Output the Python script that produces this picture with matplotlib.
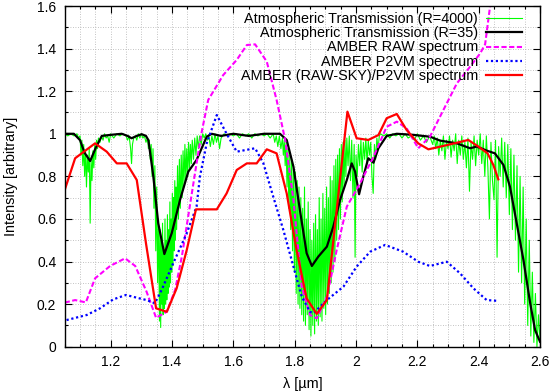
import matplotlib
matplotlib.use("Agg")
import matplotlib.pyplot as plt
from matplotlib.ticker import MultipleLocator

plt.rcParams['font.family'] = ['Liberation Sans', 'DejaVu Sans']

# --- Atmospheric transmission, high resolution (R=4000) ---
wl_hr = [1.050, 1.060, 1.070, 1.080, 1.090, 1.095, 1.100,
         1.103, 1.106, 1.109, 1.112, 1.115, 1.118, 1.121, 1.124, 1.127, 1.130, 1.133, 1.136, 1.139, 1.142,
         1.145, 1.148, 1.151, 1.154, 1.157, 1.160,
         1.165, 1.170, 1.175, 1.180, 1.185, 1.190, 1.195, 1.200, 1.210, 1.220, 1.230, 1.240, 1.250, 1.255, 1.260,
         1.265, 1.268, 1.271, 1.275, 1.280, 1.285, 1.290, 1.295, 1.300, 1.305, 1.310, 1.315, 1.320,
         1.323, 1.326, 1.329, 1.332, 1.335, 1.338, 1.341, 1.344, 1.347, 1.350, 1.353, 1.356, 1.359, 1.361,
         1.363, 1.365, 1.367, 1.369, 1.371, 1.373, 1.375, 1.377, 1.379, 1.381, 1.383, 1.385, 1.387, 1.389,
         1.391, 1.393, 1.395, 1.397, 1.399, 1.401, 1.403, 1.405, 1.407, 1.409, 1.411, 1.413, 1.415, 1.418,
         1.421, 1.424, 1.427, 1.430, 1.433, 1.436, 1.439, 1.442, 1.445, 1.448, 1.451, 1.454, 1.457, 1.460,
         1.463, 1.466, 1.470, 1.474, 1.478, 1.482, 1.486, 1.490, 1.495, 1.500,
         1.505, 1.510, 1.515, 1.520, 1.525, 1.530, 1.535, 1.540, 1.545, 1.550, 1.555, 1.560, 1.570, 1.580,
         1.590, 1.600, 1.610, 1.620, 1.630, 1.640, 1.650, 1.660, 1.670, 1.680, 1.690, 1.700, 1.710, 1.720,
         1.730, 1.735, 1.740, 1.745, 1.750, 1.755, 1.760,
         1.763, 1.766, 1.769, 1.772, 1.775, 1.778, 1.781, 1.784, 1.787, 1.790, 1.793, 1.796, 1.799, 1.802,
         1.805, 1.808, 1.811, 1.814, 1.817, 1.820, 1.823, 1.826, 1.829, 1.832, 1.835, 1.838, 1.841, 1.844,
         1.847, 1.850, 1.853, 1.856, 1.859, 1.862, 1.865, 1.868, 1.871, 1.874, 1.877, 1.880, 1.883, 1.886,
         1.889, 1.892, 1.895, 1.898, 1.901, 1.904, 1.907, 1.910, 1.913, 1.916, 1.919, 1.922, 1.925, 1.928,
         1.931, 1.934, 1.937, 1.940, 1.943, 1.946, 1.949, 1.952, 1.955, 1.958, 1.961, 1.964, 1.967, 1.970,
         1.974, 1.978, 1.982, 1.986, 1.990, 1.994, 1.997, 2.000, 2.004, 2.008, 2.012, 2.016, 2.020, 2.024,
         2.028, 2.032, 2.036, 2.040, 2.044, 2.048, 2.052, 2.056, 2.060, 2.064, 2.068, 2.072, 2.076,
         2.080, 2.090, 2.100, 2.110, 2.120, 2.130, 2.140, 2.150, 2.160, 2.170, 2.180, 2.190, 2.200, 2.210,
         2.220, 2.230, 2.240, 2.250, 2.255, 2.260, 2.265, 2.270, 2.275, 2.280, 2.285, 2.290, 2.295,
         2.300, 2.305, 2.310, 2.315, 2.320, 2.325, 2.330, 2.335, 2.340, 2.345, 2.350, 2.355, 2.360, 2.365,
         2.370, 2.375, 2.380, 2.385, 2.390, 2.395, 2.400, 2.405, 2.410, 2.415, 2.420, 2.425, 2.430, 2.435,
         2.440, 2.445, 2.450, 2.455, 2.460, 2.465, 2.470, 2.475, 2.480, 2.485, 2.490, 2.495, 2.500,
         2.505, 2.510, 2.515, 2.520, 2.525, 2.530, 2.535, 2.540, 2.545, 2.550, 2.555, 2.560, 2.565, 2.570,
         2.575, 2.580, 2.585, 2.590, 2.595, 2.600]
tr_hr = [1.00, 0.99, 1.00, 0.99, 1.00, 0.98, 0.99,
         0.90, 0.97, 0.85, 0.95, 0.80, 0.92, 0.75, 0.90, 0.82, 0.93, 0.58, 0.88, 0.78, 0.92,
         0.84, 0.95, 0.88, 0.97, 0.93, 0.98,
         0.96, 0.99, 0.97, 1.00, 0.98, 0.99, 0.96, 1.00, 0.98, 1.00, 0.99, 1.00, 0.99, 0.97, 0.99,
         0.93, 0.86, 0.95, 0.98, 0.99, 0.97, 1.00, 0.98, 1.00, 0.98, 0.99, 0.96, 0.98,
         0.93, 0.97, 0.88, 0.95, 0.80, 0.93, 0.65, 0.85, 0.45, 0.75, 0.30, 0.60, 0.12, 0.55,
         0.09, 0.50, 0.20, 0.58, 0.15, 0.45, 0.18, 0.60, 0.20, 0.50, 0.22, 0.62, 0.25, 0.55,
         0.28, 0.68, 0.30, 0.60, 0.35, 0.72, 0.38, 0.70, 0.45, 0.78, 0.50, 0.75, 0.55, 0.85,
         0.60, 0.88, 0.65, 0.90, 0.70, 0.92, 0.75, 0.95, 0.78, 0.93, 0.80, 0.96, 0.84, 0.95,
         0.86, 0.97, 0.88, 0.98, 0.90, 0.99, 0.93, 0.99, 0.95, 1.00,
         0.98, 1.00, 0.97, 0.99, 0.94, 0.99, 0.95, 1.00, 0.96, 0.99, 0.93, 0.98, 1.00, 0.99,
         1.00, 0.99, 1.00, 0.98, 1.00, 0.99, 1.00, 0.98, 1.00, 0.99, 1.00, 0.99, 1.00, 0.98,
         1.00, 0.96, 0.99, 0.94, 0.99, 0.93, 0.98,
         0.90, 0.97, 0.85, 0.96, 0.75, 0.93, 0.65, 0.90, 0.55, 0.88, 0.45, 0.85, 0.35, 0.82,
         0.25, 0.78, 0.20, 0.75, 0.18, 0.70, 0.15, 0.65, 0.12, 0.75, 0.10, 0.60, 0.15, 0.68,
         0.08, 0.55, 0.05, 0.50, 0.10, 0.58, 0.06, 0.62, 0.12, 0.55, 0.10, 0.70, 0.14, 0.60,
         0.12, 0.72, 0.18, 0.65, 0.15, 0.75, 0.20, 0.70, 0.25, 0.80, 0.30, 0.78, 0.35, 0.85,
         0.40, 0.88, 0.50, 0.90, 0.55, 0.93, 0.60, 0.95, 0.68, 0.96, 0.75, 0.97, 0.80, 0.98,
         0.85, 0.99, 0.78, 0.97, 0.70, 0.95, 0.42, 0.90, 0.80, 0.95, 0.85, 0.97, 0.82, 0.96,
         0.88, 0.98, 0.86, 0.97, 0.90, 0.96, 0.80, 0.72, 0.95, 0.88, 0.98, 0.93, 0.99,
         1.00, 0.99, 1.00, 0.98, 1.00, 0.99, 1.00, 0.98, 1.00, 0.98, 0.99, 0.97, 1.00, 0.97,
         0.99, 0.96, 0.99, 0.95, 0.99, 0.93, 0.98, 0.90, 0.97, 0.92, 0.99, 0.88, 0.97,
         0.93, 0.99, 0.89, 0.97, 0.92, 1.00, 0.86, 0.97, 0.90, 0.99, 0.88, 0.96, 0.84, 0.98,
         0.73, 0.96, 0.88, 0.99, 0.85, 0.97, 0.90, 1.00, 0.86, 0.97, 0.80, 0.99, 0.84, 0.60,
         0.96, 0.78, 0.69, 0.97, 0.42, 0.94, 0.80, 0.98, 0.75, 0.96, 0.70, 0.95, 0.62,
         0.93, 0.55, 0.90, 0.50, 0.85, 0.35, 0.80, 0.30, 0.75, 0.20, 0.60, 0.10, 0.50, 0.05,
         0.35, 0.02, 0.25, 0.00, 0.15, 0.03]

# --- Atmospheric transmission, low resolution (R=35) ---
wl_lr = [1.050, 1.080, 1.100, 1.115, 1.133, 1.150, 1.171, 1.200, 1.236, 1.255, 1.268, 1.285, 1.301,
         1.315, 1.323, 1.339, 1.355, 1.375, 1.399, 1.426, 1.453, 1.480, 1.513, 1.529, 1.560, 1.600,
         1.650, 1.700, 1.752, 1.774, 1.796, 1.817, 1.839, 1.856, 1.877, 1.905, 1.926, 1.948, 1.970,
         1.986, 1.997, 2.010, 2.024, 2.040, 2.057, 2.073, 2.100, 2.133, 2.187, 2.242, 2.274, 2.329,
         2.372, 2.394, 2.426, 2.453, 2.481, 2.502, 2.524, 2.546, 2.568, 2.584, 2.600]
tr_lr = [1.00, 1.00, 0.97, 0.91, 0.872, 0.93, 0.99, 0.995, 1.00, 0.99, 0.979, 0.99, 0.998,
         0.99, 0.97, 0.80, 0.58, 0.435, 0.533, 0.689, 0.822, 0.877, 0.986, 1.00, 0.99, 1.00,
         0.99, 1.00, 1.00, 0.971, 0.845, 0.642, 0.439, 0.379, 0.423, 0.47, 0.564, 0.689, 0.783,
         0.861, 0.822, 0.716, 0.80, 0.885, 0.864, 0.932, 0.99, 1.00, 0.995, 0.986, 0.968, 0.955,
         0.932, 0.94, 0.921, 0.908, 0.853, 0.752, 0.58, 0.407, 0.204, 0.078, 0.023]

# --- AMBER RAW spectrum ---
wl_raw = [1.050, 1.084, 1.119, 1.149, 1.198, 1.247, 1.280, 1.317, 1.348, 1.383, 1.410, 1.432, 1.480,
          1.497, 1.518, 1.567, 1.611, 1.644, 1.671, 1.709, 1.741, 1.769, 1.796, 1.823, 1.850, 1.872,
          1.905, 1.937, 1.970, 2.013, 2.057, 2.100, 2.133, 2.165, 2.203, 2.241, 2.285, 2.329, 2.372,
          2.405, 2.421, 2.437, 2.450]
int_raw = [0.207, 0.219, 0.208, 0.321, 0.379, 0.415, 0.379, 0.258, 0.136, 0.164, 0.266, 0.423, 0.861,
           1.01, 1.159, 1.276, 1.347, 1.417, 1.42, 1.339, 1.159, 0.971, 0.689, 0.282, 0.149, 0.133,
           0.235, 0.454, 0.658, 0.767, 0.892, 1.033, 1.057, 1.026, 0.932, 0.986, 1.112, 1.237, 1.315,
           1.378, 1.42, 1.597, 1.70]

# --- AMBER P2VM spectrum ---
wl_p2vm = [1.056, 1.122, 1.165, 1.208, 1.250, 1.285, 1.317, 1.344, 1.366, 1.404, 1.448, 1.480, 1.491,
           1.513, 1.546, 1.578, 1.611, 1.671, 1.698, 1.730, 1.763, 1.796, 1.823, 1.850, 1.861, 1.905,
           1.959, 2.002, 2.046, 2.095, 2.154, 2.203, 2.241, 2.296, 2.339, 2.383, 2.426, 2.464]
int_p2vm = [0.125, 0.149, 0.180, 0.222, 0.243, 0.230, 0.219, 0.204, 0.266, 0.392, 0.533, 0.658, 0.799,
            0.955, 1.088, 1.00, 0.916, 0.932, 0.861, 0.705, 0.548, 0.376, 0.235, 0.164, 0.157, 0.219,
            0.282, 0.376, 0.446, 0.478, 0.446, 0.399, 0.379, 0.399, 0.345, 0.274, 0.219, 0.215]

# --- AMBER (RAW-SKY)/P2VM spectrum ---
wl_corr = [1.050, 1.084, 1.149, 1.187, 1.220, 1.252, 1.285, 1.315, 1.348, 1.383, 1.415, 1.448, 1.478,
           1.546, 1.578, 1.611, 1.644, 1.676, 1.709, 1.741, 1.774, 1.806, 1.839, 1.872, 1.905, 1.937,
           1.972, 2.002, 2.040, 2.073, 2.100, 2.133, 2.165, 2.203, 2.236, 2.285, 2.329, 2.366, 2.399,
           2.429, 2.448, 2.464]
int_corr = [0.736, 0.885, 0.955, 0.916, 0.861, 0.861, 0.783, 0.486, 0.180, 0.164, 0.274, 0.454, 0.645,
            0.645, 0.720, 0.830, 0.861, 0.861, 0.927, 0.908, 0.72, 0.454, 0.227, 0.154, 0.219, 0.642,
            1.104, 0.979, 0.971, 0.994, 1.073, 1.093, 1.018, 0.955, 0.927, 0.943, 0.958, 0.971, 0.94,
            0.908, 0.853, 0.786]

labels = ["Atmospheric Transmission (R=4000)",
          "Atmospheric Transmission (R=35)",
          "AMBER RAW spectrum",
          "AMBER P2VM spectrum",
          "AMBER (RAW-SKY)/P2VM spectrum"]

fig = plt.figure(figsize=(5.53, 3.92), dpi=100)
ax = fig.add_axes([0.117, 0.1156, 0.8595, 0.869])

styles = [dict(color='#00ff00', lw=0.8),
          dict(color='black', lw=1.6),
          dict(color='#ff00ff', lw=1.5, dashes=(2.5, 1.2)),
          dict(color='#0000ff', lw=1.6, dashes=(1, 1.2)),
          dict(color='#ff0000', lw=1.6)]

series = [(wl_hr, tr_hr), (wl_lr, tr_lr), (wl_raw, int_raw), (wl_p2vm, int_p2vm), (wl_corr, int_corr)]
for (xs, ys), st in zip(series, styles):
    ax.plot(xs, ys, **st)

# gnuplot-style key: right-aligned text, sample line to the right
row_y = [0.9648, 0.9228, 0.8806, 0.8386, 0.7966]
for lab, st, yc in zip(labels, styles, row_y):
    ax.text(0.8696, yc - 0.0138, lab, transform=ax.transAxes, ha='right', va='baseline',
            fontsize=10.4)
    ax.plot([0.8859, 0.9616], [yc, yc], transform=ax.transAxes, clip_on=False, **st)

ax.set_xlim(1.05, 2.6)
ax.set_ylim(0, 1.6)
ax.xaxis.set_major_locator(MultipleLocator(0.2))
ax.xaxis.set_minor_locator(MultipleLocator(0.05))
ax.yaxis.set_major_locator(MultipleLocator(0.2))
ax.yaxis.set_minor_locator(MultipleLocator(0.1))
ax.xaxis.set_major_formatter(plt.FuncFormatter(lambda v, p: f"{v:g}"))
ax.yaxis.set_major_formatter(plt.FuncFormatter(lambda v, p: f"{v:g}"))
ax.grid(True, which='both', color='#b0b0b0', ls=(0, (1, 2)), lw=0.6)
ax.set_axisbelow(True)
ax.tick_params(which='both', direction='in', top=True, right=True, labelsize=10, width=0.8)
ax.tick_params(which='major', length=5, pad=6)
ax.tick_params(which='minor', length=2.5)
for s in ax.spines.values():
    s.set_linewidth(1.0)

ax.set_xlabel("λ [µm]", fontsize=10.4, labelpad=6)
ax.set_ylabel("Intensity [arbitrary]", fontsize=10.4, labelpad=14)

fig.savefig("out.png", dpi=100)
